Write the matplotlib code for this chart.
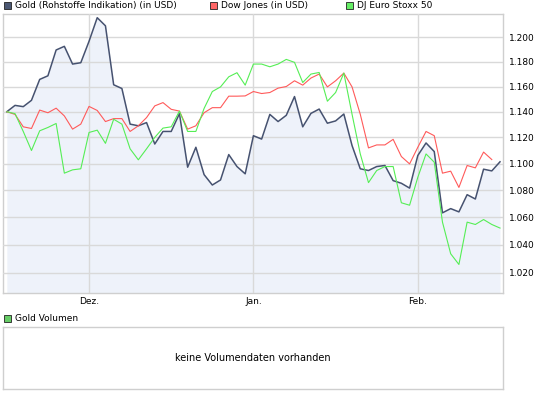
import numpy as np
import matplotlib
matplotlib.use("Agg")
import matplotlib.pyplot as plt
from matplotlib.patches import Rectangle
from matplotlib.ticker import FixedLocator, NullLocator, FixedFormatter

# indexed values (start = 1.140), 61 trading days
gold = [1.140, 1.145, 1.144, 1.149, 1.1657, 1.1686, 1.1896, 1.1926, 1.1781, 1.1792,
        1.1967, 1.2164, 1.2096, 1.1614, 1.1584, 1.1303, 1.129, 1.1315, 1.1149, 1.1246,
        1.1246, 1.1385, 1.0972, 1.1124, 1.0916, 1.0838, 1.0876, 1.1068, 1.0977, 1.0922,
        1.1213, 1.1187, 1.1379, 1.1323, 1.1372, 1.152, 1.1282, 1.1387, 1.1421, 1.131,
        1.1328, 1.1382, 1.1137, 1.096, 1.0947, 1.0977, 1.0985, 1.0871, 1.0851, 1.0815,
        1.1061, 1.1157, 1.1091, 1.0632, 1.0663, 1.0639, 1.0766, 1.0734, 1.0957, 1.0944,
        1.1013]
dow = [1.140, 1.1379, 1.1282, 1.1269, 1.1413, 1.1392, 1.1428, 1.1367, 1.1264, 1.1303,
       1.1442, 1.141, 1.1323, 1.1346, 1.1346, 1.1246, 1.129, 1.1354, 1.1446, 1.1472,
       1.1419, 1.1405, 1.1264, 1.129, 1.1392, 1.1432, 1.1432, 1.1523, 1.1523, 1.1525,
       1.156, 1.1544, 1.1552, 1.1587, 1.160, 1.1646, 1.1611, 1.1668, 1.170, 1.1597,
       1.1646, 1.1708, 1.1597, 1.138, 1.1119, 1.1142, 1.1142, 1.1185, 1.1053, 1.0997,
       1.1124, 1.1246, 1.1213, 1.0927, 1.0942, 1.082, 1.0985, 1.0967, 1.1087, 1.103,
       np.nan]
stoxx = [1.140, 1.1385, 1.1246, 1.1099, 1.1251, 1.1277, 1.1308, 1.0927, 1.0952, 1.096,
         1.1238, 1.1256, 1.1154, 1.1341, 1.1303, 1.1112, 1.1028, 1.1112, 1.120, 1.1272,
         1.1282, 1.1405, 1.1246, 1.1246, 1.1426, 1.156, 1.1597, 1.1678, 1.1711, 1.1611,
         1.1781, 1.1781, 1.1759, 1.1781, 1.1819, 1.1795, 1.1632, 1.170, 1.1713, 1.1483,
         1.1552, 1.1708, 1.138, 1.1073, 1.0856, 1.0947, 1.0977, 1.0977, 1.0706, 1.0688,
         1.0896, 1.1073, 1.101, 1.0564, 1.0336, 1.026, 1.0564, 1.0547, 1.0583, 1.0547,
         1.0521]
month_pos = [10, 30, 50]
month_labels = ["Dez.", "Jan.", "Feb."]
y_ticks = [1.02, 1.04, 1.06, 1.08, 1.10, 1.12, 1.14, 1.16, 1.18, 1.20]

W, H = 545, 395
fig = plt.figure(figsize=(W / 100, H / 100), dpi=100)
fig.patch.set_facecolor("white")


def fbox(x0, y0, x1, y1):
    # pixel box (top-left origin) -> figure fraction rect
    return [x0 / W, 1 - y1 / H, (x1 - x0) / W, (y1 - y0) / H]


grid_c = "#d9d9d9"
frame_c = "#cfcfcf"
x = np.arange(len(gold))
ymin, ymax = 1.0058, 1.2195

ax = fig.add_axes(fbox(2.7, 14, 503.3, 293.3))
ax.set_yscale("log")
ax.set_xlim(-0.5, 60.4)
ax.set_ylim(ymin, ymax)
ax.fill_between(x, gold, ymin, color="#eef2fa", lw=0, zorder=1)
ax.plot(x, gold, color="#465270", lw=1.1, zorder=3)
ax.plot(x, dow, color="#ff5a5a", lw=0.8, zorder=4)
ax.plot(x, stoxx, color="#55ee55", lw=0.8, zorder=5)

ax.yaxis.set_major_locator(FixedLocator(y_ticks))
ax.yaxis.set_major_formatter(FixedFormatter(["%.3f" % v for v in y_ticks]))
ax.yaxis.set_minor_locator(NullLocator())
ax.yaxis.tick_right()
ax.set_xticks(month_pos)
ax.set_xticklabels(month_labels)
ax.tick_params(length=0, labelsize=6.5, colors="black", pad=3)
ax.tick_params(axis="y", pad=4)
ax.grid(True, color=grid_c, lw=1.0, zorder=2)
ax.set_axisbelow(False)
for s in ax.spines.values():
    s.set_color(frame_c)
    s.set_linewidth(1.0)

# volume panel
vax = fig.add_axes(fbox(2.7, 327, 503.3, 389))
vax.set_xticks([])
vax.set_yticks([])
for s in vax.spines.values():
    s.set_color(frame_c)
    s.set_linewidth(1.0)
vax.text(0.5, 0.5, "keine Volumendaten vorhanden", ha="center", va="center",
         fontsize=7, transform=vax.transAxes)


def legend_item(px, py, color, label):
    fig.add_artist(Rectangle((px / W, 1 - (py + 7) / H), 7 / W, 7 / H,
                             transform=fig.transFigure, facecolor=color,
                             edgecolor="#222222", lw=0.6))
    fig.text((px + 11) / W, 1 - (py + 3.8) / H, label, fontsize=6.5,
             va="center", ha="left")


legend_item(4, 2, "#4b5873", "Gold (Rohstoffe Indikation) (in USD)")
legend_item(210, 2, "#ff6666", "Dow Jones (in USD)")
legend_item(346, 2, "#66ee66", "DJ Euro Stoxx 50")
legend_item(4, 315, "#66cc66", "Gold Volumen")

fig.savefig("out.png", dpi=100)
